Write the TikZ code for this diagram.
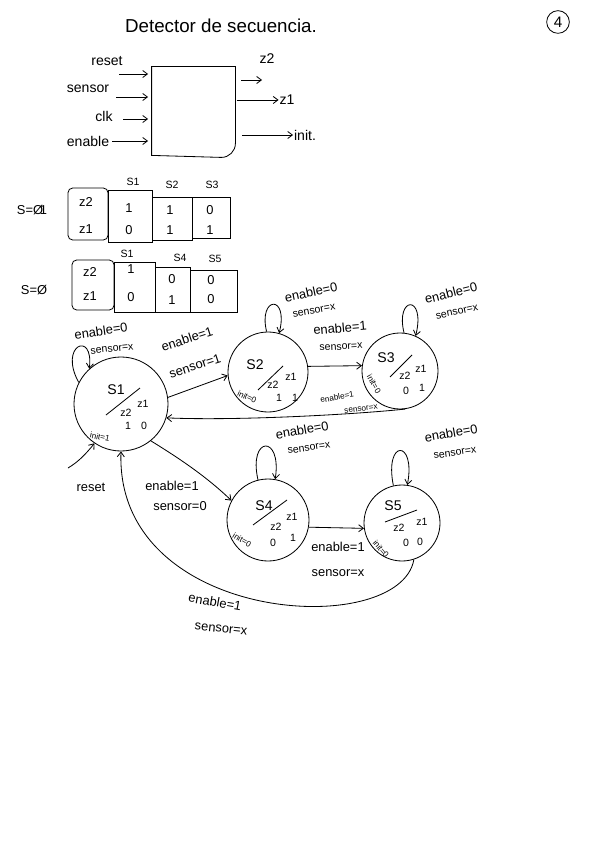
\documentclass[tikz,border=0pt]{standalone}
\usepackage{fontspec}
\setmainfont{Liberation Sans}
\usetikzlibrary{calc,arrows.meta}
\begin{document}
\begin{tikzpicture}[x=0.03cm,y=-0.03cm, line width=0.7pt,
  every node/.style={inner sep=0.5pt},
  big/.style={font=\fontsize{16}{18}\selectfont},
  blab/.style={font=\fontsize{12}{14}\selectfont},
  lbl/.style={font=\fontsize{11}{12}\selectfont},
  sml/.style={font=\fontsize{9}{10}\selectfont},
  tny/.style={font=\fontsize{7}{8}\selectfont,inner sep=0pt},
  sname/.style={font=\fontsize{12}{13}\selectfont},
  tval/.style={font=\fontsize{11}{12}\selectfont},
  statenode/.style={circle,draw,inner sep=0pt},
  arr/.style={-{Straight Barb[length=4pt,width=6pt]}},
  cellbox/.style={draw,rectangle,inner sep=0pt}
]
\useasboundingbox (0,0) rectangle (602,848);
\fill[white] (0,0) rectangle (602,848);

% title
\node[big] (title) at (221,26) {Detector de secuencia.};
\node[circle,draw,minimum size=0.68cm,inner sep=0pt,font=\fontsize{13}{14}\selectfont] (num) at (558,22) {4};

% block
\node[minimum width=2.49cm,minimum height=2.64cm,inner sep=0pt] (blk) at (193.5,111) {};
\draw (blk.north west) -- (blk.north east) -- ($(blk.south east)+(0,-12)$)
      to[out=-90,in=0] ($(blk.south east)+(-14,2)$) -- (blk.south west) -- cycle;

\node[blab] (lr) at (107,61) {reset};
\node[blab] (ls) at (88,89) {sensor};
\node[blab] (lc) at (104,116) {clk};
\node[blab] (le) at (88,141) {enable};
\coordinate (ir) at (119,74);
\coordinate (is) at (116,97);
\coordinate (ic) at (123,119);
\draw[arr,shorten >=3pt] (ir) -- (ir -| blk.west);
\draw[arr,shorten >=3pt] (is) -- (is -| blk.west);
\draw[arr,shorten >=3pt] (ic) -- (ic -| blk.west);
\draw[arr,shorten >=3pt,shorten <=2pt] (le.east) -- (le.east -| blk.west);

\node[blab] (lz2) at (267,59) {z2};
\node[blab] (lz1) at (287,100) {z1};
\node[blab] (lin) at (305,135) {init.};
\coordinate (oz2) at (262,80);
\draw[arr,shorten <=5pt] (oz2 -| blk.east) -- (oz2);
\draw[arr,shorten <=1pt] (lz1.west -| blk.east) -- (lz1.west);
\draw[arr,shorten <=6pt] (lin.west -| blk.east) -- (lin.west);

% table 1
\node[lbl] (t1lab) at (32,210) {S=Ø\kern-0.25em1};
\node[cellbox,rounded corners=4pt,minimum width=1.2cm,minimum height=1.56cm] (h1) at (88,214) {};
\node[cellbox,minimum width=1.32cm,minimum height=1.56cm] (c11) at (130,216) {};
\node[cellbox,minimum width=1.2cm,minimum height=1.29cm] (c12) at (172,218.5) {};
\node[cellbox,minimum width=1.14cm,minimum height=1.23cm] (c13) at (211,217.5) {};
\node[tval] at (86,202) {z2};
\node[tval] at (86,229) {z1};
\node[sml] at (133,182) {S1};
\node[sml] at (172,185) {S2};
\node[sml] at (212,185) {S3};
\node[tval] at (129,208) {1};
\node[tval] at (129,230) {0};
\node[tval] at (170,210) {1};
\node[tval] at (170,230) {1};
\node[tval] at (210,210) {0};
\node[tval] at (210,230) {1};

% table 2
\node[lbl] (t2lab) at (34,290) {S=Ø};
\node[cellbox,rounded corners=4pt,minimum width=1.26cm,minimum height=1.5cm] (h2) at (93,285) {};
\node[cellbox,minimum width=1.23cm,minimum height=1.5cm] (c21) at (134.5,287) {};
\node[cellbox,minimum width=1.05cm,minimum height=1.35cm] (c22) at (172.5,289.5) {};
\node[cellbox,minimum width=1.41cm,minimum height=1.26cm] (c23) at (213.5,291) {};
\node[tval] at (90,272) {z2};
\node[tval] at (90,296) {z1};
\node[sml] at (127,254) {S1};
\node[sml] at (180,258) {S4};
\node[sml] at (215,259) {S5};
\node[tval] at (131,269) {1};
\node[tval] at (131,297) {0};
\node[tval] at (172,279) {0};
\node[tval] at (172,300) {1};
\node[tval] at (211,280) {0};
\node[tval] at (211,299) {0};

% states
\node[statenode,minimum size=2.82cm] (s1) at (121,404) {};
\node[statenode,minimum size=2.4cm] (s2) at (268,372) {};
\node[statenode,minimum size=2.28cm] (s3) at (400,371) {};
\node[statenode,minimum size=2.46cm] (s4) at (268,520) {};
\node[statenode,minimum size=2.28cm] (s5) at (402,523) {};

% S1 content
\node[sname] at (116,390) {S1};
\draw (106,415) -- (140,388);
\node[sml] at (126,413) {z2};
\node[sml] at (143,404) {z1};
\node[sml] at (128,426) {1};
\node[sml] at (144,426) {0};
\node[tny,rotate=-12] at (100,437) {init=1};
% S2 content
\node[sname] at (255,365) {S2};
\draw (258,390) -- (283,366);
\node[sml] at (273,385) {z2};
\node[sml] at (291,377) {z1};
\node[sml] at (279,398) {1};
\node[sml] at (295,398) {1};
\node[tny,rotate=-25] at (247,397) {init=0};
% S3 content
\node[sname] at (386,358) {S3};
\draw (390,377) -- (412,355);
\node[sml] at (405,376) {z2};
\node[sml] at (421,369) {z1};
\node[sml] at (406,391) {0};
\node[sml] at (422,388) {1};
\node[tny,rotate=-60] at (374,384) {init=0};
% S4 content
\node[sname] at (264,506) {S4};
\draw (253,525) -- (287,500);
\node[sml] at (276,527) {z2};
\node[sml] at (292,517) {z1};
\node[sml] at (273,543) {0};
\node[sml] at (293,538) {1};
\node[tny,rotate=-30] at (242,540) {init=0};
% S5 content
\node[sname] at (393,506) {S5};
\draw (385,522) -- (417,510);
\node[sml] at (399,528) {z2};
\node[sml] at (422,522) {z1};
\node[sml] at (406,543) {0};
\node[sml] at (420,542) {0};
\node[tny,rotate=-50] at (381,549) {init=0};

% self loops
\draw[arr] (s1.153) .. controls (58,345) and (94,330) .. (s1.132);
\node[lbl,rotate=8] (l1a) at (101,331) {enable=0};
\node[sml,rotate=6] (l1b) at (112,349) {sensor=x};

\draw[arr] (s2.92) .. controls (258,296) and (289,294) .. (s2.74);
\node[lbl,rotate=12] (l2a) at (311,292) {enable=0};
\node[sml,rotate=10] (l2b) at (314,311) {sensor=x};

\draw[arr] (s3.84) .. controls (395,296) and (426,294) .. (s3.66);
\node[lbl,rotate=14] (l3a) at (451,293) {enable=0};
\node[sml,rotate=12] (l3b) at (457,312) {sensor=x};

\draw[arr] (s4.104) .. controls (248,436) and (282,434) .. (s4.80);
\node[lbl,rotate=10] (l4a) at (302,430) {enable=0};
\node[sml,rotate=8] (l4b) at (309,448) {sensor=x};

\draw[arr] (s5.103) .. controls (384,439) and (416,439) .. (s5.82);
\node[lbl,rotate=10] (l5a) at (451,433) {enable=0};
\node[sml,rotate=8] (l5b) at (455,453) {sensor=x};

% transitions
\draw[arr] (s1.8) -- (s2.185);
\node[lbl,rotate=18] (e12a) at (187,339) {enable=1};
\node[lbl,rotate=18] (e12b) at (195,366) {sensor=1};

\draw[arr] (s2.8) -- (s3.172);
\node[lbl,rotate=5] (e23a) at (340,328) {enable=1};
\node[sml,rotate=3] (e23b) at (341,347) {sensor=x};

\draw[arr] (s3.-82) .. controls (360,414) and (240,421) .. (s1.-17);
\node[tny,rotate=10] (e31a) at (337,397) {enable=1};
\node[tny,rotate=8] (e31b) at (361,409) {sensor=x};

\draw[arr] (s1.-51) .. controls (182,460) and (208,478) .. (s4.152);
\node[lbl] (e14a) at (172,486) {enable=1};
\node[lbl] (e14b) at (180,506) {sensor=0};

\draw[arr] (s4.-10) -- (s5.188);
\node[lbl] (e45a) at (338,547) {enable=1};
\node[lbl] (e45b) at (338,573) {sensor=x};

\draw[arr] (s5.-72) .. controls (400,640) and (115,625) .. (s1.-90);
\node[lbl,rotate=-10] (e51a) at (215,602) {enable=1};
\node[lbl,rotate=-6] (e51b) at (221,629) {sensor=x};

% reset
\node[lbl] (rst) at (91,487) {reset};
\coordinate (rs) at (68,468);
\draw[arr] (rs) .. controls (78,462) and (85,455) .. (s1.-124);
\end{tikzpicture}
\end{document}
